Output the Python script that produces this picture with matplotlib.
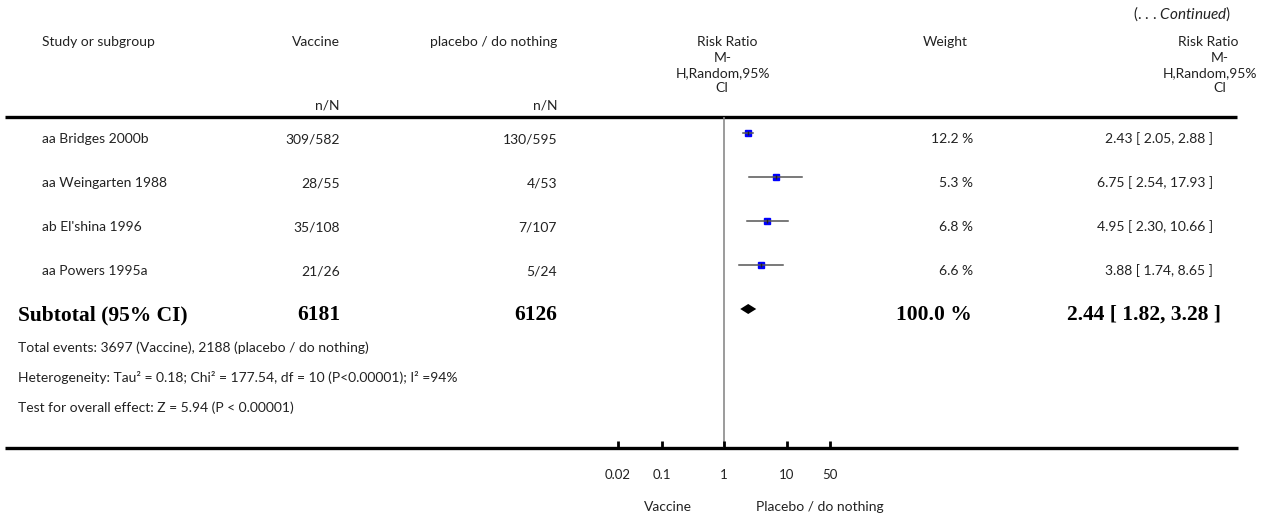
import matplotlib
matplotlib.use("Agg")
import matplotlib.pyplot as plt
from matplotlib.ticker import FixedLocator, FixedFormatter, NullLocator

# donnees
studies = ["aa Bridges 2000b", "aa Weingarten 1988", "ab El'shina 1996", "aa Powers 1995a"]
vaccine_nN = ["309/582", "28/55", "35/108", "21/26"]
placebo_nN = ["130/595", "4/53", "7/107", "5/24"]
weights = [12.2, 5.3, 6.8, 6.6]
rr = [2.43, 6.75, 4.95, 3.88]
rr_low = [2.05, 2.54, 2.30, 1.74]
rr_high = [2.88, 17.93, 10.66, 8.65]

sub_vaccine = 6181
sub_placebo = 6126
sub_weight = 100.0
sub_rr, sub_low, sub_high = 2.44, 1.82, 3.28

tick_values = [0.02, 0.1, 1, 10, 50]
tick_labels = ["0.02", "0.1", "1", "10", "50"]

footer = ["Total events: 3697 (Vaccine), 2188 (placebo / do nothing)",
          "Heterogeneity: Tau\u00b2 = 0.18; Chi\u00b2 = 177.54, df = 10 (P<0.00001); I\u00b2 =94%",
          "Test for overall effect: Z = 5.94 (P < 0.00001)"]

plt.rcParams['font.family'] = ['Lato', 'DejaVu Sans']
plt.rcParams['mathtext.fontset'] = 'custom'
plt.rcParams['mathtext.it'] = 'Lato:italic'
plt.rcParams['mathtext.rm'] = 'Lato'

W, H = 1266, 519
fig = plt.figure(figsize=(W / 100, H / 100), dpi=100)

# axe "tableau" en pixels
tab = fig.add_axes([0, 0, 1, 1])
tab.set_xlim(0, W)
tab.set_ylim(H, 0)
tab.axis('off')

FS = 10
TXT = dict(fontsize=FS, color='#222222', va='center')

# en-tetes
tab.text(1231, 14, r"(. . . $\mathit{Continued}$)", ha='right', fontsize=11, color='#222222', va='center')
tab.text(42, 42, "Study or subgroup", ha='left', **TXT)
tab.text(340, 42, "Vaccine", ha='right', **TXT)
tab.text(557, 42, "placebo / do nothing", ha='right', **TXT)
tab.text(340, 106, "n/N", ha='right', **TXT)
tab.text(557, 106, "n/N", ha='right', **TXT)
tab.text(945, 42, "Weight", ha='center', **TXT)
hdr = ["Risk Ratio", "M-", "H,Random,95%", "CI"]
hdr_y = [42, 58, 73, 88]
for xs in [[727, 723, 723, 722], [1208, 1220, 1210, 1220]]:
    for xc, yy, s in zip(xs, hdr_y, hdr):
        tab.text(xc, yy, s, ha='center', **TXT)

tab.plot([5, 1237], [117, 117], color='black', lw=2.4, solid_capstyle='butt')
tab.plot([5, 1238], [448, 448], color='black', lw=2.4, solid_capstyle='butt')

# lignes des etudes
ROW0, DY = 133, 44
for i, name in enumerate(studies):
    y = ROW0 + DY * i + 6
    tab.text(42, y, name, ha='left', **TXT)
    tab.text(340, y, vaccine_nN[i], ha='right', **TXT)
    tab.text(557, y, placebo_nN[i], ha='right', **TXT)
    tab.text(973, y, "%.1f %%" % weights[i], ha='right', **TXT)
    tab.text(1213, y, "%.2f [ %.2f, %.2f ]" % (rr[i], rr_low[i], rr_high[i]), ha='right', **TXT)

ys = ROW0 + DY * len(studies) + 6
BOLD = dict(fontsize=15.5, fontweight='bold', family='Liberation Serif', va='center', color='black')
tab.text(18, ys, "Subtotal (95% CI)", ha='left', **BOLD)
tab.text(340, ys, str(sub_vaccine), ha='right', **BOLD)
tab.text(557, ys, str(sub_placebo), ha='right', **BOLD)
tab.text(972, ys, "%.1f %%" % sub_weight, ha='right', **BOLD)
tab.text(1221, ys, "%.2f [ %.2f, %.2f ]" % (sub_rr, sub_low, sub_high), ha='right', **BOLD)

for k, s in enumerate(footer):
    tab.text(18, 348 + 30 * k, s, ha='left', **TXT)

tab.text(668, 507, "Vaccine", ha='center', fontsize=10, color='#222222', va='center')
tab.text(820, 507, "Placebo / do nothing", ha='center', fontsize=10, color='#222222', va='center')

# axe du forest plot (echelle log)
x0, x1 = 599, 849
ytop, ybot = 117, 448
ax = fig.add_axes([x0 / W, (H - ybot) / H, (x1 - x0) / W, (ybot - ytop) / H])
ax.patch.set_alpha(0)
ax.set_xscale('log')
ax.set_xlim(0.01, 100)
ax.set_ylim((ybot - ROW0) / DY, (ytop - ROW0) / DY)
for sp in ax.spines.values():
    sp.set_visible(False)
ax.yaxis.set_major_locator(NullLocator())
ax.xaxis.set_major_locator(FixedLocator(tick_values))
ax.xaxis.set_major_formatter(FixedFormatter(tick_labels))
ax.xaxis.set_minor_locator(NullLocator())
ax.tick_params(axis='x', direction='in', length=5, width=2, pad=15, labelsize=9.5, labelcolor='#222222')

ax.axvline(1, color='#8a8a8a', lw=1.2, zorder=1)

for i in range(len(studies)):
    ax.plot(rr[i], i, marker='s', ms=5, color='#0000ff', mec='#0000ff', zorder=2)
    ax.plot([rr_low[i], rr_high[i]], [i, i], color='#555555', lw=1.1, zorder=3)
    ax.plot(rr[i], i, marker='|', ms=3, color='#222222', mew=1, zorder=4)

k = len(studies)
h = 5 / DY
ax.fill([sub_low, sub_rr, sub_high, sub_rr], [k, k - h, k, k + h], color='black', lw=0, zorder=3)

fig.savefig("out.png", dpi=100)
